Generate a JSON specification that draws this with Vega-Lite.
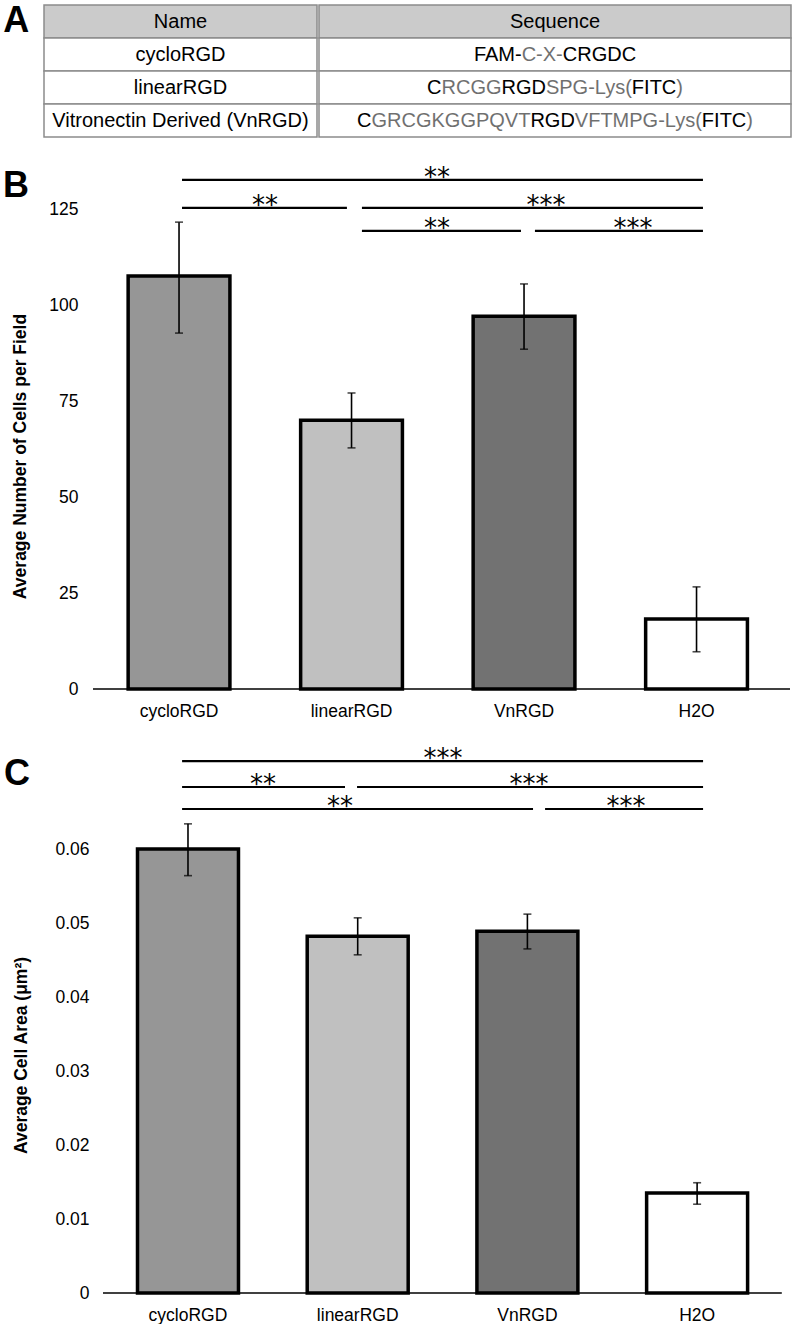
{
  "$schema": "https://vega.github.io/schema/vega-lite/v6.json",
  "padding": {"left": 3, "top": 3, "right": 0, "bottom": 0},
  "background": "white",
  "config": {"view": {"stroke": null}, "font": "Liberation Sans", "axis": {"grid": false}},
  "datasets": {
    "table": [
      {"row": 0, "name": "Name", "seq": "Sequence"},
      {"row": 1, "name": "cycloRGD", "seq": "FAM-C-X-CRGDC"},
      {"row": 2, "name": "linearRGD", "seq": "CRCGGRGDSPG-Lys(FITC)"},
      {"row": 3, "name": "Vitronectin Derived (VnRGD)", "seq": "CGRCGKGGPQVTRGDVFTMPG-Lys(FITC)"}
    ],
    "barsB": [
      {"group": "cycloRGD", "mean": 107.6, "lo": 92.7, "hi": 121.6},
      {"group": "linearRGD", "mean": 70.0, "lo": 62.8, "hi": 77.1},
      {"group": "VnRGD", "mean": 97.1, "lo": 88.5, "hi": 105.5},
      {"group": "H2O", "mean": 18.2, "lo": 9.7, "hi": 26.6}
    ],
    "sigB": [
      {"x1": 0.516, "x2": 3.536, "y": 132.6, "tx": 1.994, "label": "**"},
      {"x1": 0.516, "x2": 1.472, "y": 125.3, "tx": 0.997, "label": "**"},
      {"x1": 1.559, "x2": 3.536, "y": 125.3, "tx": 2.626, "label": "***"},
      {"x1": 1.559, "x2": 2.481, "y": 119.3, "tx": 1.994, "label": "**"},
      {"x1": 2.562, "x2": 3.536, "y": 119.3, "tx": 3.130, "label": "***"}
    ],
    "barsC": [
      {"group": "cycloRGD", "mean": 0.0600, "lo": 0.0564, "hi": 0.0634},
      {"group": "linearRGD", "mean": 0.0482, "lo": 0.0457, "hi": 0.0507},
      {"group": "VnRGD", "mean": 0.0489, "lo": 0.0465, "hi": 0.0512},
      {"group": "H2O", "mean": 0.0135, "lo": 0.0120, "hi": 0.0149}
    ],
    "sigC": [
      {"x1": 0.466, "x2": 3.536, "y": 0.07189, "tx": 2.004, "label": "***"},
      {"x1": 0.466, "x2": 1.426, "y": 0.06838, "tx": 0.943, "label": "**"},
      {"x1": 1.497, "x2": 3.536, "y": 0.06838, "tx": 2.510, "label": "***"},
      {"x1": 0.466, "x2": 2.534, "y": 0.06541, "tx": 1.397, "label": "**"},
      {"x1": 2.605, "x2": 3.536, "y": 0.06541, "tx": 3.082, "label": "***"}
    ]
  },
  "spacing": 26,
  "vconcat": [
    {
      "title": {"text": "A", "orient": "left", "angle": 0, "anchor": "end", "baseline": "top", "align": "right", "fontSize": 36, "fontWeight": "bold", "color": "black", "offset": -12},
      "spacing": 0,
      "hconcat": [
        {
          "width": 273, "height": 132,
          "data": {"name": "table"},
          "layer": [
            {
              "mark": {"type": "rect", "stroke": "#8c8c8c", "strokeWidth": 1.5},
              "encoding": {
                "y": {"field": "row", "type": "ordinal", "axis": null, "scale": {"paddingInner": 0, "paddingOuter": 0}},
                "fill": {"condition": {"test": "datum.row === 0", "value": "#cbcbcb"}, "value": "#ffffff"}
              }
            },
            {
              "mark": {"type": "text", "fontSize": 20, "color": "black"},
              "encoding": {
                "y": {"field": "row", "type": "ordinal", "axis": null},
                "text": {"field": "name"}
              }
            }
          ]
        },
        {
          "width": 472, "height": 132,
          "data": {"name": "table"},
          "layer": [
            {
              "mark": {"type": "rect", "stroke": "#8c8c8c", "strokeWidth": 1.5},
              "encoding": {
                "y": {"field": "row", "type": "ordinal", "axis": null, "scale": {"paddingInner": 0, "paddingOuter": 0}},
                "fill": {"condition": {"test": "datum.row === 0", "value": "#cbcbcb"}, "value": "#ffffff"}
              }
            },
            {
              "transform": [{"filter": "datum.row === 0"}],
              "mark": {"type": "text", "fontSize": 20, "color": "black"},
              "encoding": {"y": {"field": "row", "type": "ordinal", "axis": null}, "text": {"field": "seq"}}
            },
            {
              "transform": [{"filter": "datum.row === 1"}],
              "mark": {"type": "text", "fontSize": 20, "fill": {"gradient": "linear", "x1": 0, "y1": 0, "x2": 1, "y2": 0, "stops": [
                {"offset": 0, "color": "#000000"}, {"offset": 0.2993, "color": "#000000"},
                {"offset": 0.2993, "color": "#6f6f6f"}, {"offset": 0.551, "color": "#6f6f6f"},
                {"offset": 0.551, "color": "#000000"}, {"offset": 1, "color": "#000000"}]}},
              "encoding": {"y": {"field": "row", "type": "ordinal", "axis": null}, "text": {"field": "seq"}}
            },
            {
              "transform": [{"filter": "datum.row === 2"}],
              "mark": {"type": "text", "fontSize": 20, "fill": {"gradient": "linear", "x1": 0, "y1": 0, "x2": 1, "y2": 0, "stops": [
                {"offset": 0, "color": "#000000"}, {"offset": 0.0563, "color": "#000000"},
                {"offset": 0.0563, "color": "#6f6f6f"}, {"offset": 0.29, "color": "#6f6f6f"},
                {"offset": 0.29, "color": "#000000"}, {"offset": 0.4632, "color": "#000000"},
                {"offset": 0.4632, "color": "#6f6f6f"}, {"offset": 0.8009, "color": "#6f6f6f"},
                {"offset": 0.8009, "color": "#000000"}, {"offset": 0.9741, "color": "#000000"},
                {"offset": 0.9741, "color": "#6f6f6f"}, {"offset": 1, "color": "#6f6f6f"}]}},
              "encoding": {"y": {"field": "row", "type": "ordinal", "axis": null}, "text": {"field": "seq"}}
            },
            {
              "transform": [{"filter": "datum.row === 3"}],
              "mark": {"type": "text", "fontSize": 20, "fill": {"gradient": "linear", "x1": 0, "y1": 0, "x2": 1, "y2": 0, "stops": [
                {"offset": 0, "color": "#000000"}, {"offset": 0.0364, "color": "#000000"},
                {"offset": 0.0364, "color": "#6f6f6f"}, {"offset": 0.437, "color": "#6f6f6f"},
                {"offset": 0.437, "color": "#000000"}, {"offset": 0.5491, "color": "#000000"},
                {"offset": 0.5491, "color": "#6f6f6f"}, {"offset": 0.8712, "color": "#6f6f6f"},
                {"offset": 0.8712, "color": "#000000"}, {"offset": 0.9832, "color": "#000000"},
                {"offset": 0.9832, "color": "#6f6f6f"}, {"offset": 1, "color": "#6f6f6f"}]}},
              "encoding": {"y": {"field": "row", "type": "ordinal", "axis": null}, "text": {"field": "seq"}}
            }
          ]
        }
      ]
    },
    {
      "width": 746, "height": 524,
      "title": {"text": "B", "orient": "top", "anchor": "start", "frame": "bounds", "baseline": "top", "offset": -40, "dx": -8, "fontSize": 36, "fontWeight": "bold", "color": "black"},
      "resolve": {"scale": {"x": "independent"}, "axis": {"x": "independent"}},
      "layer": [
        {
          "data": {"name": "barsB"},
          "layer": [
            {
              "mark": {"type": "bar", "stroke": "black", "strokeWidth": 3.5},
              "encoding": {
                "x": {"field": "group", "type": "nominal", "sort": ["cycloRGD", "linearRGD", "VnRGD", "H2O"],
                  "scale": {"paddingInner": 0.41, "paddingOuter": 0.3673, "align": 0.664},
                  "axis": {"title": null, "labelAngle": 0, "labelFontSize": 17.5, "labelColor": "black", "ticks": false, "domain": false, "labelPadding": 13}},
                "y": {"field": "mean", "type": "quantitative", "title": "Average Number of Cells per Field",
                  "scale": {"domain": [0, 136.48], "nice": false},
                  "axis": {"values": [0, 25, 50, 75, 100, 125], "offset": -49, "domain": false, "ticks": false, "labelFontSize": 17.5, "labelColor": "black", "labelPadding": 15, "titleFontSize": 17.5, "titleFontWeight": "bold", "titleColor": "black", "titleX": -73, "titleY": 291, "titleBaseline": "middle"}},
                "fill": {"field": "group", "type": "nominal", "scale": {"domain": ["cycloRGD", "linearRGD", "VnRGD", "H2O"], "range": ["#969696", "#c0c0c0", "#727272", "#ffffff"]}, "legend": null}
              }
            },
            {
              "mark": {"type": "errorbar", "ticks": true, "thickness": 1.6, "size": 8, "color": "black"},
              "encoding": {
                "x": {"field": "group", "type": "nominal", "sort": ["cycloRGD", "linearRGD", "VnRGD", "H2O"]},
                "y": {"field": "lo", "type": "quantitative", "title": "Average Number of Cells per Field", "scale": {"domain": [0, 136.48], "nice": false}},
                "y2": {"field": "hi"}
              }
            }
          ]
        },
        {
          "data": {"name": "sigB"},
          "layer": [
            {
              "mark": {"type": "rule", "strokeWidth": 2.2, "color": "black"},
              "encoding": {
                "x": {"field": "x1", "type": "quantitative", "scale": {"domain": [-0.2841, 4.0406], "nice": false, "zero": false}, "axis": null},
                "x2": {"field": "x2"},
                "y": {"field": "y", "type": "quantitative", "title": "Average Number of Cells per Field", "scale": {"domain": [0, 136.48], "nice": false}}
              }
            },
            {
              "mark": {"type": "text", "font": "DejaVu Sans", "fontSize": 26, "baseline": "alphabetic", "dy": 6, "color": "black"},
              "encoding": {
                "x": {"field": "tx", "type": "quantitative", "axis": null},
                "y": {"field": "y", "type": "quantitative", "title": "Average Number of Cells per Field", "scale": {"domain": [0, 136.48], "nice": false}},
                "text": {"field": "label"}
              }
            },
            {
              "data": {"values": [{}]},
              "mark": {"type": "rule", "strokeWidth": 1.5, "color": "black"},
              "encoding": {
                "x": {"datum": 0, "type": "quantitative", "axis": null},
                "x2": {"datum": 4.0406},
                "y": {"datum": 0, "type": "quantitative", "title": "Average Number of Cells per Field"}
              }
            }
          ]
        }
      ]
    },
    {
      "width": 746, "height": 543,
      "title": {"text": "C", "orient": "top", "anchor": "start", "frame": "bounds", "baseline": "top", "offset": -47, "dx": -8, "fontSize": 36, "fontWeight": "bold", "color": "black"},
      "resolve": {"scale": {"x": "independent"}, "axis": {"x": "independent"}},
      "layer": [
        {
          "data": {"name": "barsC"},
          "layer": [
            {
              "mark": {"type": "bar", "stroke": "black", "strokeWidth": 3.5},
              "encoding": {
                "x": {"field": "group", "type": "nominal", "sort": ["cycloRGD", "linearRGD", "VnRGD", "H2O"],
                  "scale": {"paddingInner": 0.405, "paddingOuter": 0.4004, "align": 0.688},
                  "axis": {"title": null, "labelAngle": 0, "labelFontSize": 17.5, "labelColor": "black", "ticks": false, "domain": false, "labelPadding": 13}},
                "y": {"field": "mean", "type": "quantitative", "title": "Average Cell Area (μm²)",
                  "scale": {"domain": [0, 0.07338], "nice": false},
                  "axis": {"values": [0, 0.01, 0.02, 0.03, 0.04, 0.05, 0.06], "format": "~g", "offset": -59, "domain": false, "ticks": false, "labelFontSize": 17.5, "labelColor": "black", "labelPadding": 14, "titleFontSize": 17.5, "titleFontWeight": "bold", "titleColor": "black", "titleX": -82, "titleY": 305, "titleBaseline": "middle"}},
                "fill": {"field": "group", "type": "nominal", "scale": {"domain": ["cycloRGD", "linearRGD", "VnRGD", "H2O"], "range": ["#969696", "#c0c0c0", "#727272", "#ffffff"]}, "legend": null}
              }
            },
            {
              "mark": {"type": "errorbar", "ticks": true, "thickness": 1.6, "size": 8, "color": "black"},
              "encoding": {
                "x": {"field": "group", "type": "nominal", "sort": ["cycloRGD", "linearRGD", "VnRGD", "H2O"]},
                "y": {"field": "lo", "type": "quantitative", "title": "Average Cell Area (μm²)", "scale": {"domain": [0, 0.07338], "nice": false}},
                "y2": {"field": "hi"}
              }
            }
          ]
        },
        {
          "data": {"name": "sigC"},
          "layer": [
            {
              "mark": {"type": "rule", "strokeWidth": 2.2, "color": "black"},
              "encoding": {
                "x": {"field": "x1", "type": "quantitative", "scale": {"domain": [-0.3477, 4.0483], "nice": false, "zero": false}, "axis": null},
                "x2": {"field": "x2"},
                "y": {"field": "y", "type": "quantitative", "title": "Average Cell Area (μm²)", "scale": {"domain": [0, 0.07338], "nice": false}}
              }
            },
            {
              "mark": {"type": "text", "font": "DejaVu Sans", "fontSize": 26, "baseline": "alphabetic", "dy": 6, "color": "black"},
              "encoding": {
                "x": {"field": "tx", "type": "quantitative", "axis": null},
                "y": {"field": "y", "type": "quantitative", "title": "Average Cell Area (μm²)", "scale": {"domain": [0, 0.07338], "nice": false}},
                "text": {"field": "label"}
              }
            },
            {
              "data": {"values": [{}]},
              "mark": {"type": "rule", "strokeWidth": 1.5, "color": "black"},
              "encoding": {
                "x": {"datum": 0, "type": "quantitative", "axis": null},
                "x2": {"datum": 4.0},
                "y": {"datum": 0, "type": "quantitative", "title": "Average Cell Area (μm²)"}
              }
            }
          ]
        }
      ]
    }
  ]
}
